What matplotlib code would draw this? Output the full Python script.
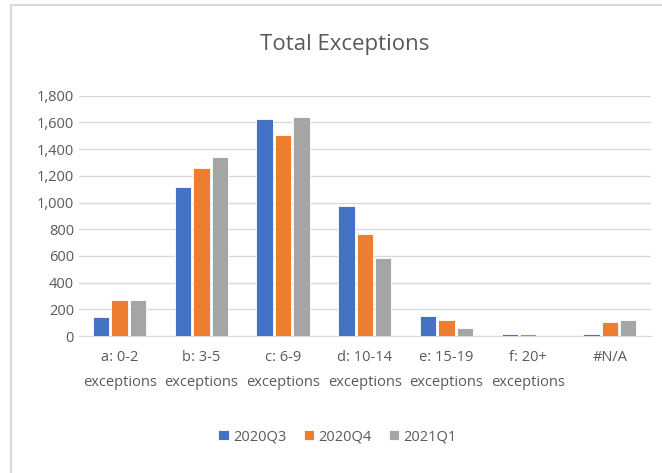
import matplotlib
matplotlib.use("Agg")
import matplotlib.pyplot as plt
from matplotlib.lines import Line2D
import numpy as np

plt.rcParams['font.family'] = ['Liberation Sans Narrow', 'Open Sans', 'DejaVu Sans']

categories = ["a: 0-2\nexceptions", "b: 3-5\nexceptions", "c: 6-9\nexceptions",
              "d: 10-14\nexceptions", "e: 15-19\nexceptions", "f: 20+\nexceptions", "#N/A"]
q3_2020 = [141, 1120, 1626, 972, 149, 15, 15]
q4_2020 = [273, 1257, 1509, 763, 117, 15, 102]
q1_2021 = [273, 1343, 1643, 587, 60, 0, 117]
series = [("2020Q3", q3_2020, "#4472C4"),
          ("2020Q4", q4_2020, "#ED7D31"),
          ("2021Q1", q1_2021, "#A5A5A5")]

W, H = 662, 473
fig = plt.figure(figsize=(W / 100, H / 100), dpi=100)
ax = fig.add_axes([0.119, 0.2896, 0.864, 0.508])

x = np.arange(len(categories))
width = 0.2
for i, (name, vals, color) in enumerate(series):
    ax.bar(x + (i - 1) * 0.225, vals, width, color=color, label=name,
           edgecolor="white", linewidth=0.6, zorder=3)

ax.set_ylim(0, 1800)
ax.set_xlim(-0.5, len(categories) - 0.5)
ax.set_yticks(range(0, 1801, 200))
ax.set_yticklabels([f"{v:,}" for v in range(0, 1801, 200)])
ax.set_xticks(x)
ax.set_xticklabels(categories, linespacing=1.9)
ax.tick_params(length=0, colors="#595959", labelsize=10.5)
ax.tick_params(axis="x", pad=10)
ax.grid(axis="y", color="#D9D9D9", linewidth=1, zorder=0)
for side in ["top", "right", "left"]:
    ax.spines[side].set_visible(False)
ax.spines["bottom"].set_color("#D9D9D9")

fig.text(0.52, 0.905, "Total Exceptions", ha="center", va="center",
         fontsize=16, color="#595959")

fig.legend(loc="center", bbox_to_anchor=(0.51, 0.077), ncol=3, frameon=False,
           fontsize=10.5, handlelength=0.7, handleheight=0.7, handletextpad=0.3,
           columnspacing=1.2, labelcolor="#595959")

# chart-area border (cropped on right and bottom in the screenshot)
x0, y0 = 10.5 / W, 1 - 5 / H
fig.add_artist(Line2D([x0, 1], [y0, y0], transform=fig.transFigure,
                      color="#D9D9D9", linewidth=1.5))
fig.add_artist(Line2D([x0, x0], [0, y0], transform=fig.transFigure,
                      color="#D9D9D9", linewidth=1.5))

fig.savefig("out.png", dpi=100)
